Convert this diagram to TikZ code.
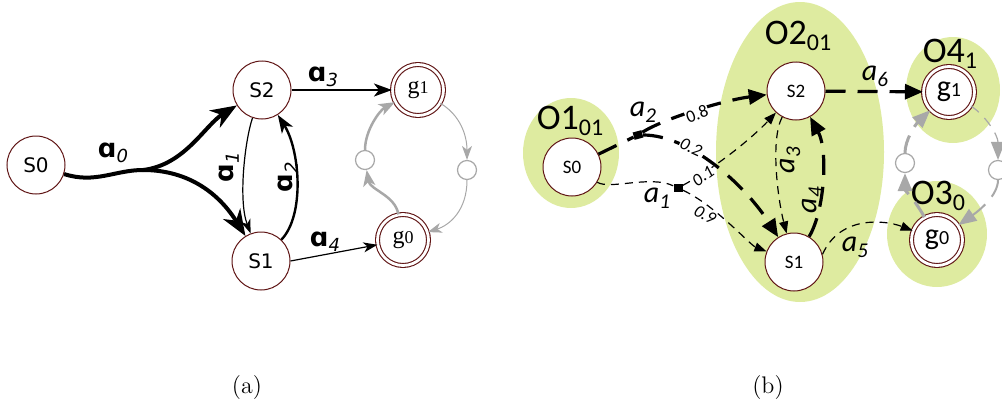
\documentclass[tikz,border=0pt]{standalone}
\usepackage{fontspec}
\usetikzlibrary{arrows.meta,shapes.geometric}
\newfontfamily\dvfont{DejaVu Sans}
\newfontfamily\clfont{Carlito}
\newfontfamily\tmfont{Liberation Serif}
\definecolor{brd}{RGB}{95,20,20}
\definecolor{obsgreen}{RGB}{222,235,160}
\definecolor{loopgray}{RGB}{168,168,168}
% labels of the two panels
\newcommand\alab[1]{{\dvfont\bfseries\fontsize{13}{13}\selectfont ɑ\raisebox{-0.35ex}{\fontsize{9}{9}\selectfont\mdseries\itshape #1}}}
\newcommand\blab[1]{{\clfont\itshape\fontsize{15}{15}\selectfont a\raisebox{-0.4ex}{\fontsize{10.5}{10.5}\selectfont #1}}}
\newcommand\olab[2]{{\clfont\fontsize{18}{18}\selectfont O#1\raisebox{-0.35ex}{\fontsize{12}{12}\selectfont #2}}}
\newcommand\sname[1]{{\dvfont\fontsize{10}{10}\selectfont #1}}
\newcommand\bname[1]{{\clfont\fontsize{9.5}{9.5}\selectfont #1}}
\newcommand\gname[1]{{\tmfont\fontsize{12}{12}\selectfont g{\fontsize{9}{9}\selectfont #1}}}
\newcommand\gbname[1]{{\clfont\fontsize{15}{15}\selectfont g{\fontsize{10}{10}\selectfont #1}}}
\newcommand\prob[1]{{\clfont\fontsize{8.8}{8.8}\selectfont #1}}
\begin{document}
\begin{tikzpicture}[x=0.5pt,y=-0.5pt,
  state/.style={circle,draw=brd,fill=white,line width=0.5pt,minimum size=29pt,inner sep=0pt},
  goal/.style={circle,draw=brd,double=white,double distance=1.4pt,fill=white,line width=0.55pt,minimum size=25.5pt,inner sep=0pt},
  mini/.style={circle,draw=loopgray,fill=white,line width=0.6pt,minimum size=9.5pt,inner sep=0pt},
  act/.style={rectangle,fill=black,minimum width=4.5pt,minimum height=3.8pt,inner sep=0pt},
  heavy/.style={line width=2pt,-{Stealth[length=13pt,width=10pt,inset=4pt]}},
  medium/.style={line width=1.2pt,-{Stealth[length=9pt,width=6.5pt,inset=2.5pt]}},
  light/.style={line width=0.6pt,-{Stealth[length=7pt,width=5pt,inset=2pt]}},
  greyheavy/.style={draw=loopgray,line width=1.25pt,-{Stealth[length=8pt,width=6pt,inset=2pt]}},
  greylight/.style={draw=loopgray,line width=0.5pt,-{Stealth[length=7pt,width=5pt,inset=2pt]}},
  bthick/.style={line width=1.6pt,dash pattern=on 10pt off 6pt,-{Triangle[length=9pt,width=7.5pt]}},
  bthin/.style={line width=0.6pt,dash pattern=on 4pt off 3pt,-{Triangle[length=6pt,width=4.5pt]}},
  gthick/.style={draw=loopgray,line width=1.5pt,dash pattern=on 9pt off 5pt,-{Triangle[length=9pt,width=7pt]}},
  gthin/.style={draw=loopgray,line width=0.6pt,dash pattern=on 5pt off 4pt,-{Triangle[length=9pt,width=7pt]}},
  lbl/.style={inner sep=0.5pt},
  problbl/.style={fill=white,inner sep=0.3pt}]
\useasboundingbox (0,0) rectangle (1002,407);
\clip (0,0) rectangle (1002,407);

% ---------- panel (a) ----------
\node[state] (S0) at (36,165) {\sname{S0}};
\node[state] (S2) at (262,90) {\sname{S2}};
\node[state] (S1) at (261,261) {\sname{S1}};
\node[goal] (G1) at (418,90) {\gname{1}};
\node[goal] (G0) at (403,240) {\gname{0}};
\node[mini] (M1) at (365,160) {};
\node[mini] (M2) at (467,170) {};
\coordinate (split) at (143,170);

\draw[line width=2pt] (S0) .. controls (95,184) and (115,170) .. (split);
\draw[heavy] (split) .. controls (185,165) and (205,125) .. (S2);
\draw[heavy] (split) .. controls (190,170) and (220,195) .. (S1);
\draw[light] (S2) .. controls (245,140) and (238,200) .. (S1);
\draw[medium] (S1) .. controls (305,215) and (300,150) .. (S2);
\draw[medium,line width=1pt] (S2) -- (G1);
\draw[light] (S1.east) -- (G0);

\draw[greyheavy] (G0) .. controls (395,195) and (370,190) .. (M1);
\draw[greyheavy] (M1) .. controls (365,130) and (380,110) .. (G1);
\draw[greylight] (G1) .. controls (460,115) and (467,135) .. (M2);
\draw[greylight] (M2) .. controls (467,210) and (450,225) .. (G0);

\node[lbl] (la0) at (113,153) {\alab{0}};
\node[lbl,rotate=90] (la1) at (229,167) {\alab{1}};
\node[lbl,rotate=90] (la2) at (288,177) {\alab{2}};
\node[lbl] (la3) at (323,77) {\alab{3}};
\node[lbl] (la4) at (325,242) {\alab{4}};

% ---------- panel (b) ----------
\fill[obsgreen] (571,153) ellipse [x radius=48,y radius=55];
\fill[obsgreen] (800,152) ellipse [x radius=84,y radius=150];
\fill[obsgreen] (953,90) ellipse [x radius=47,y radius=53];
\fill[obsgreen] (937,234) ellipse [x radius=50,y radius=53];
\node (O1) at (570,121) {\olab{1}{01}};
\node (O2) at (798,36) {\olab{2}{01}};
\node (O4) at (950,54) {\olab{4}{1}};
\node (O3) at (938,196) {\olab{3}{0}};

\node[state] (s0) at (572,167) {\bname{S0}};
\node[state] (s2) at (796,91) {\bname{S2}};
\node[state] (s1) at (794,262) {\bname{S1}};
\node[goal] (g1) at (949,92) {\gbname{1}};
\node[goal] (g0) at (937,240) {\gbname{0}};
\node[mini] (m3) at (905,163) {};
\node[mini] (m4) at (998,170) {};
\node[act,rotate=15] (A2) at (638,135) {};
\node[act] (A1) at (678,188) {};

\draw[bthick,-] (s0) -- (A2);
\draw[bthick] (A2) .. controls (665,118) and (725,100) .. (s2);
\draw[bthick] (A2) .. controls (690,135) and (745,185) .. (s1);
\draw[bthin,-] (s0) .. controls (610,190) and (650,175) .. (A1);
\draw[bthin] (A1) .. controls (720,165) and (755,135) .. (s2);
\draw[bthin] (A1) .. controls (715,205) and (750,245) .. (s1);
\draw[bthin] (s2) .. controls (770,140) and (778,200) .. (s1);
\draw[bthick] (s1) .. controls (825,210) and (828,150) .. (s2);
\draw[bthin] (s1.15) .. controls (840,215) and (885,220) .. (g0);
\draw[bthick] (s2) -- (g1);

\draw[gthick] (g0) .. controls (915,200) and (905,190) .. (m3);
\draw[gthick] (m3) .. controls (905,140) and (915,125) .. (g1);
\draw[gthin] (g1) .. controls (985,115) and (998,135) .. (m4);
\draw[gthick,line width=1pt] (m4) .. controls (998,195) and (980,210) .. (g0);

\node[problbl,rotate=20] (p08) at (697,114) {\prob{0.8}};
\node[problbl,rotate=-25] (p02) at (691,147) {\prob{\itshape 0.2}};
\node[problbl,rotate=35] (p01) at (703,176) {\prob{\itshape 0.1}};
\node[problbl,rotate=-30] (p09) at (705,215) {\prob{\itshape 0.9}};

\node[lbl] (lb2) at (643,112) {\blab{2}};
\node[lbl] (lb1) at (657,198) {\blab{1}};
\node[lbl,rotate=90] (lb3) at (790,160) {\blab{3}};
\node[lbl,rotate=90] (lb4) at (812,200) {\blab{4}};
\node[lbl] (lb5) at (855,247) {\blab{5}};
\node[lbl] (lb6) at (875,76) {\blab{6}};

% ---------- captions ----------
\node (capa) at (247,388) {\fontsize{12}{12}\selectfont (a)};
\node (capb) at (768,388) {\fontsize{12}{12}\selectfont (b)};
\end{tikzpicture}
\end{document}
